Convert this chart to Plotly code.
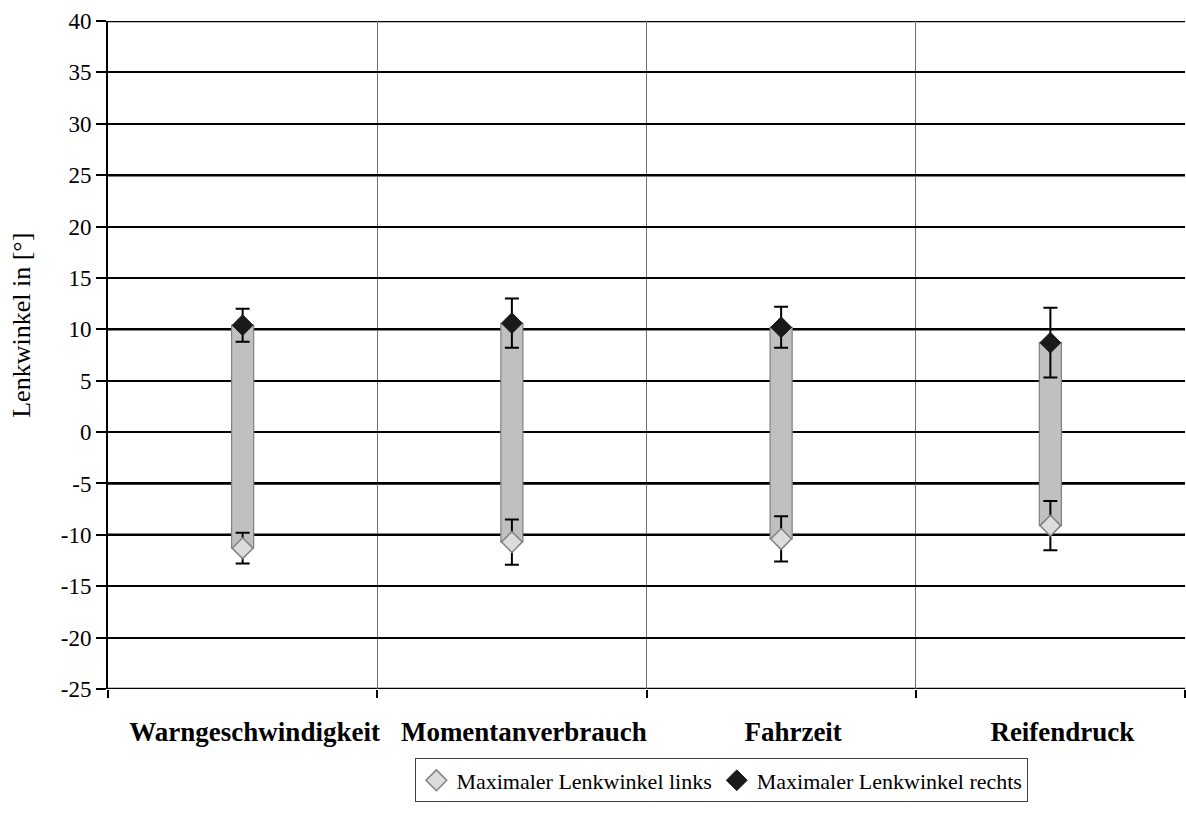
import plotly.graph_objects as go

# Lenkwinkel-Auswertung je Anzeigevariante
categories = ["Warngeschwindigkeit", "Momentanverbrauch", "Fahrzeit", "Reifendruck"]
links_mean = [-11.3, -10.7, -10.4, -9.1]
links_err = [1.5, 2.2, 2.2, 2.4]
rechts_mean = [10.4, 10.6, 10.2, 8.7]
rechts_err = [1.6, 2.4, 2.0, 3.4]
y_ticks = list(range(-25, 41, 5))
thick_grid = [40, 25, 10, -5, -10, -25]

x_pos = list(range(len(categories)))
serif = "Liberation Serif, Times New Roman, serif"

fig = go.Figure()

# Spanne zwischen linkem und rechtem Maximalwert
fig.add_trace(go.Bar(
    x=x_pos,
    y=[r - l for l, r in zip(links_mean, rechts_mean)],
    base=links_mean,
    width=0.082,
    marker=dict(color="#c0c0c0", line=dict(color="#808080", width=1.2)),
    showlegend=False,
    hoverinfo="skip",
))

fig.add_trace(go.Scatter(
    x=x_pos, y=links_mean, mode="markers",
    name="Maximaler Lenkwinkel links",
    marker=dict(symbol="diamond", size=16, color="#dcdcdc",
                line=dict(color="#808080", width=1.5)),
    error_y=dict(type="data", array=links_err, color="black",
                 thickness=2, width=7),
))

fig.add_trace(go.Scatter(
    x=x_pos, y=rechts_mean, mode="markers",
    name="Maximaler Lenkwinkel rechts",
    marker=dict(symbol="diamond", size=16, color="#1a1a1a",
                line=dict(color="#1a1a1a", width=1)),
    error_y=dict(type="data", array=rechts_err, color="black",
                 thickness=2, width=7),
))

# kräftigere Gitterlinien
for yv in thick_grid:
    fig.add_shape(type="line", xref="paper", yref="y", x0=0, x1=1,
                  y0=yv, y1=yv, line=dict(color="black", width=2.5),
                  layer="below")

# Achsentitel
fig.add_annotation(
    text="Lenkwinkel in [°]", textangle=-90,
    xref="paper", yref="paper", x=-0.08, y=0.545,
    xanchor="center", yanchor="middle", showarrow=False,
    font=dict(family=serif, size=26, color="black"),
)

fig.update_layout(
    width=1186, height=833,
    margin=dict(l=108, r=1, t=21, b=144),
    paper_bgcolor="white", plot_bgcolor="white",
    font=dict(family=serif, size=22, color="black"),
    barmode="overlay",
    legend=dict(
        orientation="h", x=0.57, xanchor="center", y=-0.104, yanchor="top",
        bordercolor="#404040", borderwidth=1,
        font=dict(family=serif, size=22, color="black"),
        itemwidth=30, tracegroupgap=0,
    ),
)

fig.update_xaxes(
    range=[-0.5, 3.5],
    tickmode="array", tickvals=x_pos, ticktext=[f"<b>{c}</b>" for c in categories],
    ticks="", showgrid=False, zeroline=False,
    tickfont=dict(family=serif, size=27, color="black"),
    minor=dict(tickvals=[-0.5, 0.5, 1.5, 2.5, 3.5], ticks="outside",
               ticklen=8, tickwidth=1.5, tickcolor="black",
               showgrid=True, gridcolor="#707070", gridwidth=1),
    showline=False,
    ticklabelstandoff=24,
    ticklabelshift=12,
)

fig.update_yaxes(
    range=[-25, 40], tickmode="array", tickvals=y_ticks,
    ticktext=[str(v) for v in y_ticks],
    ticks="outside", ticklen=10, tickwidth=1.5, tickcolor="black",
    showgrid=True, gridcolor="black", gridwidth=1.5,
    zeroline=False,
    showline=True, linecolor="black", linewidth=2,
    tickfont=dict(family=serif, size=23, color="black"),
)

fig.write_html("out.html")
